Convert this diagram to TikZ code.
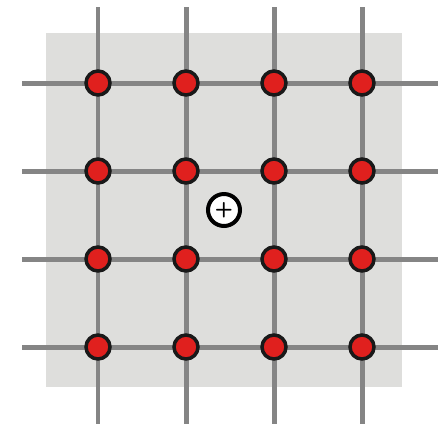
\documentclass[tikz,border=0pt]{standalone}
\definecolor{sitered}{RGB}{224,32,30}
\definecolor{platebg}{RGB}{222,222,220}
\begin{document}
\begin{tikzpicture}[
    x=0.02cm, y=-0.02cm,
    gridline/.style={line width=0.1cm, draw=black!48},
    site/.style={circle, draw=black!90, line width=0.07cm, fill=sitered, minimum size=0.48cm, inner sep=0pt},
    charge/.style={circle, draw=black, line width=0.08cm, fill=white, minimum size=0.64cm, inner sep=0pt, font=\large\sffamily\bfseries}
]
    \useasboundingbox (0,0) rectangle (447,424);
    \fill [platebg] (46,33) rectangle (402,387);
    % grid lines
    \foreach \p in {98,186,274,362} {
        \draw [gridline] (\p,7) -- (\p,424);
        \draw [gridline] (22,\p-15) -- (438,\p-15);
    }
    % lattice sites
    \foreach \i/\x in {1/98,2/186,3/274,4/362}
        \foreach \j/\y in {1/83,2/171,3/259,4/347}
            \node [site] (site-\i-\j) at (\x,\y) {};
    \node [charge] (plus) at (224,210) {+};
\end{tikzpicture}
\end{document}
